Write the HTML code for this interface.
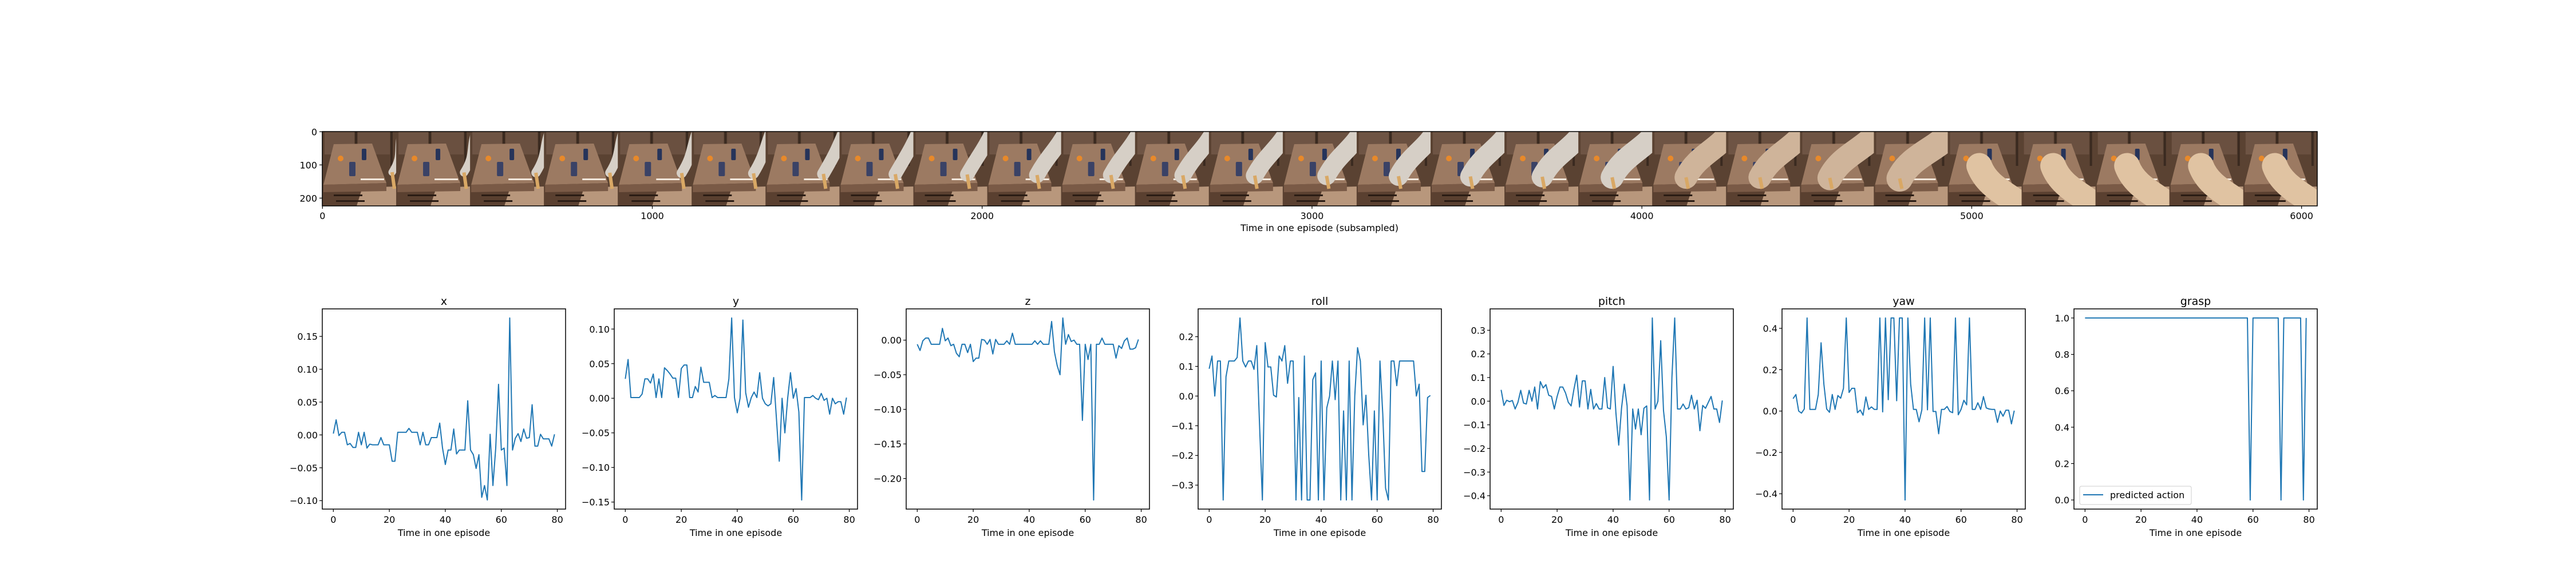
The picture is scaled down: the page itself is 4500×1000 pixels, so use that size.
<!DOCTYPE html>
<html><head><meta charset="utf-8"><style>
html,body{margin:0;padding:0;background:#fff;}
svg{display:block;font-family:"DejaVu Sans","Liberation Sans",sans-serif;}
</style></head><body>
<svg id="fig" width="4500" height="1000" viewBox="0 0 4500 1000" xmlns="http://www.w3.org/2000/svg">
<defs>
<clipPath id="stripClip"><rect x="563" y="230" width="3485" height="130"/></clipPath>
</defs>
<g id="strip" clip-path="url(#stripClip)"></g>
<rect x="563" y="230" width="3485" height="130" fill="none" stroke="#000" stroke-width="1.5"/>
<g id="stripAxes"></g>
<text x="2305" y="404" font-size="16" text-anchor="middle">Time in one episode (subsampled)</text>
<g id="panels"></g>
</svg>
<script>
const NS='http://www.w3.org/2000/svg';
const timeSteps=80;
const seriesX=[0.002,0.023,-0.001,0.004,0.004,-0.015,-0.013,-0.019,-0.019,0.004,-0.015,0.004,-0.02,-0.014,-0.015,-0.015,-0.015,-0.004,-0.015,-0.015,-0.015,-0.04,-0.04,0.004,0.004,0.004,0.004,0.01,0.004,0.004,0.004,-0.015,0.004,-0.015,-0.015,-0.004,-0.004,-0.004,0.018,-0.02,-0.045,-0.023,-0.023,0.009,-0.029,-0.023,-0.023,-0.023,0.052,-0.023,-0.03,-0.051,-0.03,-0.095,-0.077,-0.099,0.001,-0.077,-0.02,0.077,-0.023,-0.02,-0.077,0.178,-0.023,-0.005,0.002,-0.01,0.009,-0.005,-0.004,0.046,-0.017,-0.017,0.001,-0.006,-0.006,-0.006,-0.017,0.001];
const seriesY=[0.028,0.056,0.001,0.001,0.001,0.001,0.006,0.028,0.028,0.022,0.035,0.001,0.028,0.001,0.044,0.04,0.035,0.029,0.029,0.001,0.043,0.048,0.048,0.001,0.001,0.017,0.009,0.045,0.023,0.023,0.023,0.001,0.004,0.001,0.001,0.001,0.001,0.028,0.116,0.001,-0.021,0.0,0.113,0.008,-0.013,0.001,0.009,0.001,0.037,0.0,-0.008,-0.011,-0.008,0.03,-0.03,-0.091,0.0,-0.05,0.0,0.037,0.0,0.014,-0.02,-0.147,0.001,0.001,0.001,0.004,0.0,-0.002,0.007,-0.003,0.0,-0.023,0.0,-0.008,-0.005,-0.005,-0.023,0.001];
const seriesZ=[-0.006,-0.015,-0.001,0.003,0.003,-0.006,-0.006,-0.006,-0.006,0.017,-0.001,0.003,-0.008,-0.006,-0.019,-0.024,-0.006,-0.006,-0.018,-0.006,-0.031,-0.026,-0.026,0.001,0.0,-0.006,0.001,-0.02,0.001,-0.006,-0.006,-0.006,-0.001,-0.006,0.01,-0.006,-0.006,-0.006,-0.006,-0.006,-0.006,-0.006,-0.001,-0.006,-0.001,-0.006,-0.006,-0.006,0.027,-0.017,-0.037,-0.05,0.032,-0.006,0.008,-0.002,0.0,-0.006,-0.006,-0.116,-0.006,-0.028,-0.006,-0.231,-0.006,-0.006,0.003,-0.006,-0.006,-0.006,-0.006,-0.026,-0.008,-0.012,-0.001,0.003,-0.013,-0.013,-0.011,0.001];
const seriesRoll=[0.092,0.135,0.0,0.118,0.118,-0.35,0.065,0.118,0.118,0.118,0.13,0.263,0.118,0.098,0.118,0.118,0.09,0.17,-0.1,-0.35,0.18,0.098,0.098,0.003,-0.003,0.135,0.118,0.17,0.043,0.118,0.118,-0.35,-0.005,-0.35,0.135,-0.35,-0.35,0.055,0.078,-0.35,0.118,-0.35,-0.04,0.0,0.118,-0.012,0.118,-0.35,-0.05,-0.35,0.118,-0.35,0.0,0.163,0.118,-0.097,0.003,-0.2,-0.35,-0.05,-0.35,0.118,-0.06,-0.31,-0.35,0.118,0.118,0.035,0.118,0.118,0.118,0.118,0.118,0.118,0.0,0.04,-0.254,-0.254,-0.005,0.002];
const seriesPitch=[0.048,-0.018,0.004,-0.002,0.003,-0.033,-0.005,0.046,-0.008,-0.012,0.046,0.0,0.06,-0.033,0.083,0.056,0.07,0.025,0.02,-0.033,0.02,0.06,0.06,0.035,-0.005,-0.02,0.05,0.11,-0.025,0.086,0.086,-0.033,0.05,-0.033,-0.01,-0.033,-0.033,0.1,-0.028,-0.033,0.147,-0.05,-0.186,-0.03,0.072,-0.02,-0.418,-0.033,-0.118,-0.033,-0.142,-0.03,-0.02,-0.418,0.352,-0.033,0.0,0.256,-0.04,-0.15,-0.418,0.1,0.352,-0.033,-0.033,-0.012,-0.033,-0.028,0.025,-0.033,0.004,-0.125,-0.018,-0.03,-0.005,0.02,-0.033,-0.033,-0.09,0.003];
const seriesYaw=[0.06,0.08,0.0,-0.01,0.01,0.45,0.008,0.008,0.008,0.08,0.33,0.13,0.01,-0.006,0.08,0.008,0.075,0.062,0.11,0.45,0.09,0.11,0.11,-0.008,0.005,-0.02,0.068,0.008,0.02,0.008,0.008,0.45,-0.004,0.45,0.055,0.45,0.45,0.05,0.45,0.45,-0.43,0.45,0.13,0.008,0.008,-0.052,0.006,0.45,0.006,0.45,-0.002,-0.002,-0.11,0.008,0.008,0.022,-0.002,-0.008,0.45,-0.018,0.008,0.052,0.03,0.45,0.008,0.008,0.04,0.008,0.07,0.015,0.01,0.008,0.008,-0.055,0.0,-0.025,0.004,0.004,-0.062,0.002];
const seriesGrasp=[1,1,1,1,1,1,1,1,1,1,1,1,1,1,1,1,1,1,1,1,1,1,1,1,1,1,1,1,1,1,1,1,1,1,1,1,1,1,1,1,1,1,1,1,1,1,1,1,1,1,1,1,1,1,1,1,1,1,1,0,1,1,1,1,1,1,1,1,1,1,0,1,1,1,1,1,1,1,0,1];
const panelTitles=['x','y','z','roll','pitch','yaw','grasp'];
const xTicks=[0,20,40,60,80];
const yTicksX=[-0.10,-0.05,0.00,0.05,0.10,0.15];
const yTicksY=[-0.15,-0.10,-0.05,0.00,0.05,0.10];
const yTicksZ=[-0.20,-0.15,-0.10,-0.05,0.00];
const yTicksRoll=[-0.3,-0.2,-0.1,0.0,0.1,0.2];
const yTicksPitch=[-0.4,-0.3,-0.2,-0.1,0.0,0.1,0.2,0.3];
const yTicksYaw=[-0.4,-0.2,0.0,0.2,0.4];
const yTicksGrasp=[0.0,0.2,0.4,0.6,0.8,1.0];
const stripXTicks=[0,1000,2000,3000,4000,5000,6000];
const stripYTicks=[0,100,200];

function mk(tag,attrs,parent){const e=document.createElementNS(NS,tag);for(const k in attrs)e.setAttribute(k,attrs[k]);if(parent)parent.appendChild(e);return e;}
function fmt(v,d){const s=Math.abs(v).toFixed(d);return (v< -1e-9?'\u2212':'')+s;}

// ---------- panels ----------
const panelsG=document.getElementById('panels');
const panelSeries=[seriesX,seriesY,seriesZ,seriesRoll,seriesPitch,seriesYaw,seriesGrasp];
const panelTicks=[yTicksX,yTicksY,yTicksZ,yTicksRoll,yTicksPitch,yTicksYaw,yTicksGrasp];
const panelDec=[2,2,2,1,1,1,1];
const panelNames=['x-panel','y-panel','z-panel','roll-panel','pitch-panel','yaw-panel','grasp-panel'];
const PT=540,PB=890,PW=425;
function yRange(s){let mn=Math.min(...s),mx=Math.max(...s);const pad=(mx-mn)*0.05;return [mn-pad,mx+pad];}
for(let p=0;p<7;p++){
  const L=563+510*p,R=L+PW;
  const s=panelSeries[p];
  const [y0,y1]=yRange(s);
  const xs=v=>L+(v+(timeSteps-1)*0.05)/((timeSteps-1)*1.1)*PW;
  const ys=v=>PB-(v-y0)/(y1-y0)*(PB-PT);
  const g=mk('g',{},panelsG);
  
  
  const t=mk('text',{x:(L+R)/2,y:533,'font-size':19,'text-anchor':'middle'},g);
  t.textContent=panelTitles[p];
  
  
  // line
  let d='';
  s.forEach((v,i)=>{d+=(i?'L':'M')+xs(i).toFixed(2)+','+ys(v).toFixed(2);});
  const ln=mk('path',{d:d,fill:'none',stroke:'#1f77b4','stroke-width':2,'stroke-linejoin':'round'},g);
  
  
  const fr=mk('rect',{x:L,y:PT,width:PW,height:PB-PT,fill:'none',stroke:'#000','stroke-width':1.5},g);
  
  
  xTicks.forEach(v=>{
    const x=xs(v);
    mk('line',{x1:x,y1:PB,x2:x,y2:PB+5,stroke:'#000','stroke-width':1.2},g);
    const tl=mk('text',{x:x,y:914,'font-size':16,'text-anchor':'middle'},g);
    tl.textContent=String(v);
    
    
  });
  panelTicks[p].forEach(v=>{
    const y=ys(v);
    mk('line',{x1:L-5,y1:y,x2:L,y2:y,stroke:'#000','stroke-width':1.2},g);
    const tl=mk('text',{x:L-8,y:y+6,'font-size':16,'text-anchor':'end'},g);
    tl.textContent=fmt(v,panelDec[p]);
    
    
  });
  const xl=mk('text',{x:(L+R)/2,y:937,'font-size':16,'text-anchor':'middle'},g);
  xl.textContent='Time in one episode';
  
  
  if(p===6){
    const lg=mk('g',{},g);
    
    
    mk('rect',{x:3633,y:850,width:195,height:32,rx:3,fill:'#fff',stroke:'#ccc','stroke-width':1},lg);
    mk('line',{x1:3639,y1:865,x2:3674,y2:865,stroke:'#1f77b4','stroke-width':2},lg);
    const lt=mk('text',{x:3686,y:871,'font-size':16},lg);
    lt.textContent='predicted action';
    
    
  }
}

// ---------- image strip ----------
const strip=document.getElementById('strip');
const frameArm=[0.1,0.15,0.2,0.2,0.25,0.3,0.4,0.45,0.5,0.6,0.6,0.65,0.7,0.75,0.8,0.85,0.9,1.0,1.0,1.0,1.1,1.2,1.3,1.3,1.3,1.3,1.3];
const FW=129.07;
for(let i=0;i<27;i++){
  const x0=563+i*FW,y0=230;
  const g=mk('g',{transform:`translate(${x0.toFixed(2)},${y0})`},strip);
  
  
  mk('rect',{x:0,y:0,width:FW+0.5,height:130,fill:'#5a4232'},g);
  mk('rect',{x:4,y:0,width:52,height:40,fill:'#6e5444'},g);
  mk('rect',{x:62,y:0,width:56,height:40,fill:'#6a5040'},g);
  mk('rect',{x:57,y:0,width:4,height:40,fill:'#3a2a20'},g);
  mk('rect',{x:119,y:0,width:4,height:60,fill:'#3a2a20'},g);
  mk('polygon',{points:'0,100 129,96 129,130 0,130',fill:'#b8977c'},g);
  mk('polygon',{points:'0,100 70,98 60,130 0,130',fill:'#5a4030'},g);
  mk('polygon',{points:'20,22 87,21 112,90 2,93',fill:'#9c7a62'},g);
  mk('polygon',{points:'2,93 112,90 112,104 2,106',fill:'#7a5a46'},g);
  mk('rect',{x:20,y:110,width:50,height:3,fill:'#2a1c14'},g);
  mk('rect',{x:24,y:120,width:50,height:3,fill:'#2a1c14'},g);
  mk('circle',{cx:32,cy:47,r:5,fill:'#e8892a'},g);
  mk('rect',{x:69,y:30,width:8,height:20,rx:2,fill:'#26345a'},g);
  mk('rect',{x:47,y:53,width:11,height:25,rx:2,fill:'#3a4266'},g);
  mk('rect',{x:67,y:82,width:41,height:3,fill:'#f2e8dc'},g);
  const a=frameArm[i];
  let arm;
  if(i<22){
    const ex=129-a*70, w=10+a*30;
    arm=mk('path',{d:`M${140},${-5} C${129-a*10},${30} ${ex+20},${40} ${ex},${70+a*10}`,fill:'none',stroke:i>17?'#cfb49a':'#d6cfc6','stroke-width':w,'stroke-linecap':'round'},g);
    mk('path',{d:`M${ex},${70+a*10} L${ex+4},${100}`,stroke:'#d9a865','stroke-width':6,fill:'none'},g);
  } else {
    arm=mk('path',{d:'M140,140 C110,110 70,100 55,60',fill:'none',stroke:'#e0c3a2','stroke-width':45,'stroke-linecap':'round'},g);
  }
  
  
}
// strip axes
const sa=document.getElementById('stripAxes');
stripXTicks.forEach(v=>{
  const x=563+(v+0.5)*3485/6048;
  mk('line',{x1:x,y1:360,x2:x,y2:365,stroke:'#000','stroke-width':1.2},sa);
  const t=mk('text',{x:x,y:383,'font-size':16,'text-anchor':'middle'},sa);
  t.textContent=String(v);
  
  
});
stripYTicks.forEach(v=>{
  const y=230+(v+0.5)*130/224;
  mk('line',{x1:558,y1:y,x2:563,y2:y,stroke:'#000','stroke-width':1.2},sa);
  const t=mk('text',{x:554,y:y+6,'font-size':16,'text-anchor':'end'},sa);
  t.textContent=String(v);
  
  
});
</script>
</body></html>
